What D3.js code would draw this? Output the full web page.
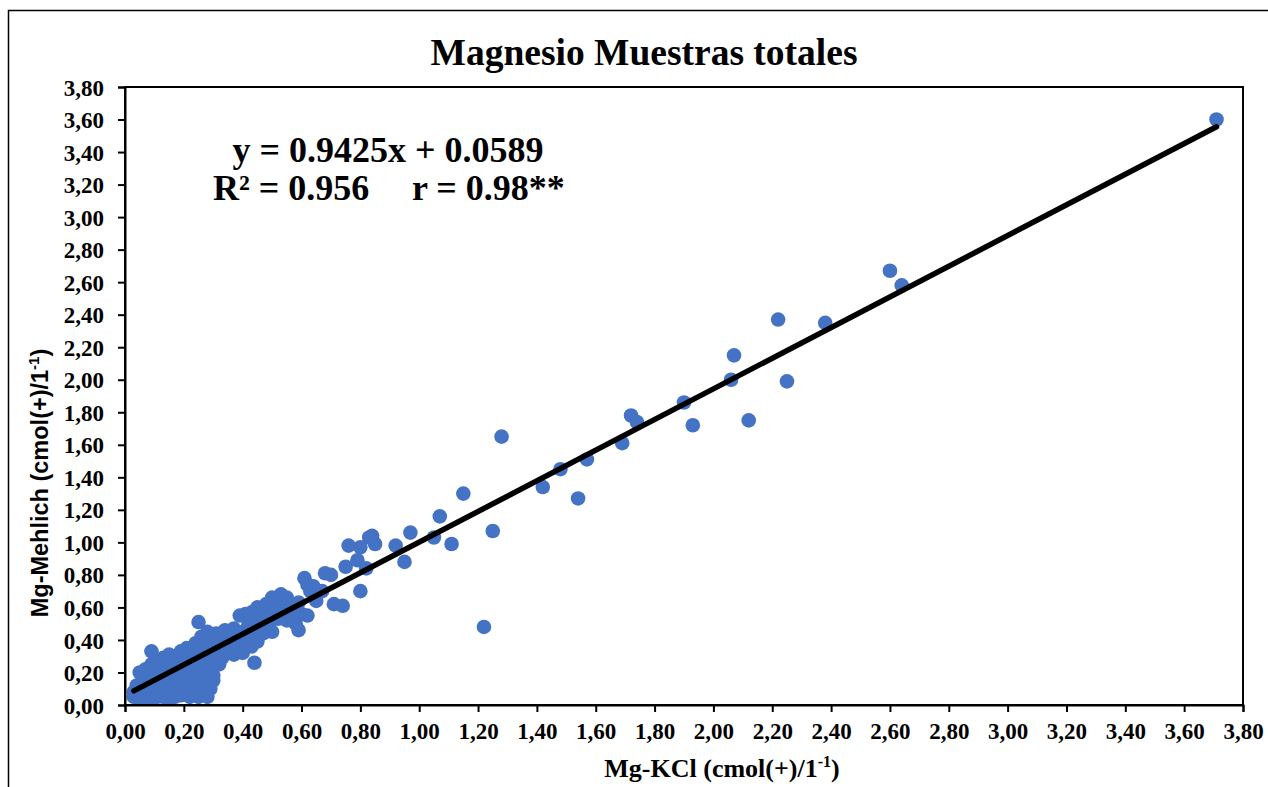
<!DOCTYPE html>
<html>
<head>
<meta charset="utf-8">
<script src="https://cdn.jsdelivr.net/npm/d3@7"></script>
<style>
  body { margin: 0; background: #fff; }
  svg text { font-family: "Liberation Serif", "Times New Roman", serif; font-weight: bold; fill: #000; }
</style>
</head>
<body>
<div id="chart"></div>
<script>
// Mg extracted with KCl (x) vs Mehlich (y)
const mgKCl = [
  0.03,0.03,0.04,0.04,0.05,0.05,0.05,0.06,0.06,0.07,0.07,0.07,0.08,0.08,0.09,0.09,0.09,0.09,0.10,0.10,0.10,0.11,0.11,0.11,0.12,0.12,0.12,
  0.13,0.13,0.13,0.14,0.14,0.14,0.15,0.15,0.15,0.15,0.16,0.16,0.16,0.17,0.17,0.17,0.18,0.18,0.18,0.19,0.19,0.19,0.20,0.20,0.20,0.21,0.21,0.21,0.22,0.22,0.22,
  0.23,0.23,0.23,0.24,0.24,0.24,0.25,0.25,0.25,0.25,0.26,0.26,0.26,0.27,0.27,0.27,0.27,0.28,0.28,0.28,0.28,0.29,0.29,0.29,0.30,0.30,0.30,0.31,0.31,0.31,0.32,0.32,0.32,
  0.33,0.33,0.34,0.34,0.35,0.35,0.36,0.36,0.37,0.37,0.38,0.38,0.39,0.39,0.40,0.40,0.41,0.41,0.42,0.42,0.43,0.43,0.44,0.44,0.45,0.45,0.45,
  0.46,0.47,0.47,0.48,0.49,0.50,0.50,0.51,0.52,0.52,0.53,0.54,0.55,0.55,0.56,0.57,0.58,0.59,0.59,0.60,
  0.61,0.62,0.62,0.63,0.64,0.65,0.67,0.68,0.70,0.71,
  3.71,2.60,2.64,2.22,2.38,2.07,2.06,2.25,1.90,1.93,2.12,1.72,1.74,1.69,1.57,1.48,1.54,1.42,1.28,1.15,
  1.07,1.25,1.11,1.05,0.97,0.92,0.95,1.22,0.84,0.83,0.85,0.76,0.80,0.79,0.75,0.82,0.80,0.74
];
const mgMehlich = [
  0.05,0.08,0.06,0.12,0.04,0.10,0.20,0.07,0.15,0.05,0.12,0.22,0.09,0.18,0.04,0.14,0.25,0.33,0.07,0.11,0.20,0.05,0.16,0.27,0.09,0.13,0.23,
  0.05,0.18,0.29,0.08,0.12,0.22,0.04,0.15,0.26,0.31,0.07,0.19,0.10,0.24,0.13,0.05,0.28,0.17,0.09,0.21,0.33,0.06,0.14,0.25,0.30,0.08,0.19,0.35,0.12,0.27,0.05,
  0.22,0.32,0.08,0.15,0.38,0.28,0.51,0.05,0.19,0.34,0.10,0.25,0.42,0.07,0.30,0.16,0.37,0.13,0.22,0.45,0.05,0.33,0.27,0.10,0.40,0.18,0.15,0.35,0.28,0.44,0.31,0.38,0.25,
  0.42,0.29,0.36,0.46,0.33,0.40,0.44,0.38,0.31,0.47,0.40,0.35,0.55,0.43,0.38,0.32,0.56,0.46,0.41,0.50,0.36,0.57,0.26,0.45,0.60,0.52,0.39,
  0.48,0.55,0.44,0.62,0.50,0.66,0.45,0.58,0.63,0.53,0.68,0.60,0.52,0.66,0.57,0.62,0.50,0.46,0.63,0.56,
  0.78,0.74,0.55,0.70,0.73,0.64,0.70,0.81,0.80,0.62,
  3.60,2.67,2.58,2.37,2.35,2.15,2.00,1.99,1.86,1.72,1.75,1.78,1.74,1.61,1.51,1.45,1.27,1.34,1.65,1.30,
  1.16,1.07,0.99,1.03,1.06,0.98,0.88,0.48,1.04,1.03,0.99,0.98,0.97,0.89,0.85,0.84,0.70,0.61
];

// regression shown on the chart
const slope = 0.9425;
const intercept = 0.0589;
const eqLine1 = "y = 0.9425x + 0.0589";
const rSquared = "0.956";
const rValue = "0.98**";

const titleText = "Magnesio Muestras totales";
const axisTicks = d3.range(0, 3.81, 0.2);

const points = mgKCl.map((x, i) => ({ x: x, y: mgMehlich[i] }));

const width = 1268, height = 787;
const margin = { top: 87, right: 25, bottom: 82, left: 125 };

const svg = d3.select("#chart").append("svg")
    .attr("width", width)
    .attr("height", height);

// outer chart frame (runs off the right and bottom edge)
svg.append("rect")
    .attr("x", 8.5).attr("y", 10.5)
    .attr("width", 1300).attr("height", 800)
    .attr("fill", "none").attr("stroke", "#000").attr("stroke-width", 1.5);

const x = d3.scaleLinear().domain([0, 3.8]).range([margin.left, width - margin.right]);
const y = d3.scaleLinear().domain([0, 3.8]).range([height - margin.bottom, margin.top]);

const fmt = d => d3.format(".2f")(d).replace(".", ",");

// points
svg.append("g")
    .selectAll("circle")
    .data(points)
    .enter().append("circle")
    .attr("cx", d => x(d.x))
    .attr("cy", d => y(d.y))
    .attr("r", 7.3)
    .attr("fill", "#4472C4");

// trend line
const xr = d3.extent(mgKCl);
svg.append("line")
    .attr("x1", x(xr[0])).attr("y1", y(slope * xr[0] + intercept))
    .attr("x2", x(xr[1])).attr("y2", y(slope * xr[1] + intercept))
    .attr("stroke", "#000").attr("stroke-width", 5.5)
    .attr("stroke-linecap", "round");

// plot frame
svg.append("rect")
    .attr("x", x(0)).attr("y", y(3.8))
    .attr("width", x(3.8) - x(0)).attr("height", y(0) - y(3.8))
    .attr("fill", "none").attr("stroke", "#000").attr("stroke-width", 2);

// axes
const xAxis = svg.append("g")
    .attr("transform", "translate(0," + y(0) + ")")
    .call(d3.axisBottom(x).tickValues(axisTicks).tickFormat(fmt).tickSize(7).tickPadding(11));
const yAxis = svg.append("g")
    .attr("transform", "translate(" + x(0) + ",0)")
    .call(d3.axisLeft(y).tickValues(axisTicks).tickFormat(fmt).tickSize(7).tickPadding(14));

[xAxis, yAxis].forEach(a => {
    a.select(".domain").attr("stroke-width", 2);
    a.selectAll(".tick line").attr("stroke-width", 2);
    a.selectAll("text")
        .attr("font-family", "Liberation Serif, Times New Roman, serif")
        .attr("font-weight", "bold")
        .attr("font-size", 23)
        .attr("fill", "#000");
});
yAxis.selectAll("text").attr("dy", "0.35em");

// title
svg.append("text")
    .attr("x", 644).attr("y", 65)
    .attr("text-anchor", "middle")
    .attr("font-size", 37.5)
    .text(titleText);

// x axis title
const xt = svg.append("text")
    .attr("x", 722).attr("y", 777)
    .attr("text-anchor", "middle")
    .attr("font-size", 26);
xt.append("tspan").text("Mg-KCl (cmol(+)/1");
xt.append("tspan").attr("font-size", 16).attr("dy", -10).text("-1");
xt.append("tspan").attr("dy", 10).text(")");

// y axis title
const yt = svg.append("text")
    .attr("transform", "translate(48,483) rotate(-90)")
    .attr("text-anchor", "middle")
    .style("font-family", "'Liberation Sans', Arial, sans-serif")
    .attr("font-size", 23.5);
yt.append("tspan").text("Mg-Mehlich (cmol(+)/1");
yt.append("tspan").attr("font-size", 15).attr("dy", -9).text("-1");
yt.append("tspan").attr("dy", 9).text(")");

// regression annotation
svg.append("text")
    .attr("x", 388).attr("y", 162)
    .attr("text-anchor", "middle")
    .attr("font-size", 36)
    .text(eqLine1);
const r2 = svg.append("text")
    .attr("x", 213).attr("y", 200)
    .attr("font-size", 36);
r2.append("tspan").text("R² = " + rSquared);
r2.append("tspan").attr("x", 412).text("r = " + rValue);
</script>
</body>
</html>
